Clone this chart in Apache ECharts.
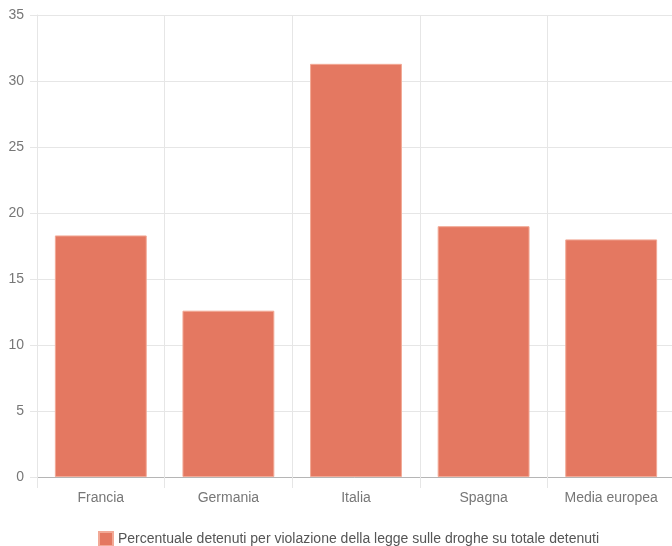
<!DOCTYPE html>
<html>
<head>
<meta charset="utf-8">
<script src="https://cdn.jsdelivr.net/npm/echarts@6/dist/echarts.min.js"></script>
<style>
  html, body { margin: 0; padding: 0; background: #fff; }
  #chart { width: 672px; height: 546px; }
</style>
</head>
<body>
<div id="chart"></div>
<script>
var CATEGORIES = ['Francia', 'Germania', 'Italia', 'Spagna', 'Media europea'];
var VALUES = [18.3, 12.6, 31.3, 19.0, 18.0];
var SERIES_NAME = 'Percentuale detenuti per violazione della legge sulle droghe su totale detenuti';

var FONT = '"Liberation Sans", Arial, sans-serif';
var GRID_COLOR = '#e6e6e6';

var chart = echarts.init(document.getElementById('chart'), null, { renderer: 'canvas' });

chart.setOption({
  animation: false,
  textStyle: { fontFamily: FONT },
  grid: {
    left: 37, width: 638, top: 15, bottom: 69,
    containLabel: false, outerBoundsMode: 'none'
  },
  legend: {
    top: 531,
    left: 98,
    padding: 0,
    itemWidth: 14,
    itemHeight: 14,
    itemGap: 8,
    icon: 'rect',
    textStyle: { color: '#555', fontSize: 14, fontFamily: FONT },
    data: [SERIES_NAME]
  },
  xAxis: {
    type: 'category',
    data: CATEGORIES,
    axisLine: { lineStyle: { color: '#b5b5b5', width: 1 } },
    axisTick: { show: true, length: 11, lineStyle: { color: GRID_COLOR } },
    axisLabel: { color: '#777', fontSize: 14, margin: 14, fontFamily: FONT },
    splitLine: { show: true, lineStyle: { color: GRID_COLOR } }
  },
  yAxis: {
    type: 'value',
    min: 0,
    max: 35,
    interval: 5,
    axisLine: { show: true, lineStyle: { color: GRID_COLOR } },
    axisTick: { show: true, length: 7, lineStyle: { color: GRID_COLOR } },
    axisLabel: { color: '#777', fontSize: 14, margin: 13, fontFamily: FONT },
    splitLine: { show: true, lineStyle: { color: GRID_COLOR } }
  },
  series: [{
    name: SERIES_NAME,
    type: 'bar',
    data: VALUES,
    barCategoryGap: '28%',
    itemStyle: { color: '#e47861', borderColor: '#f2a996', borderWidth: 1 }
  }]
});
</script>
</body>
</html>
